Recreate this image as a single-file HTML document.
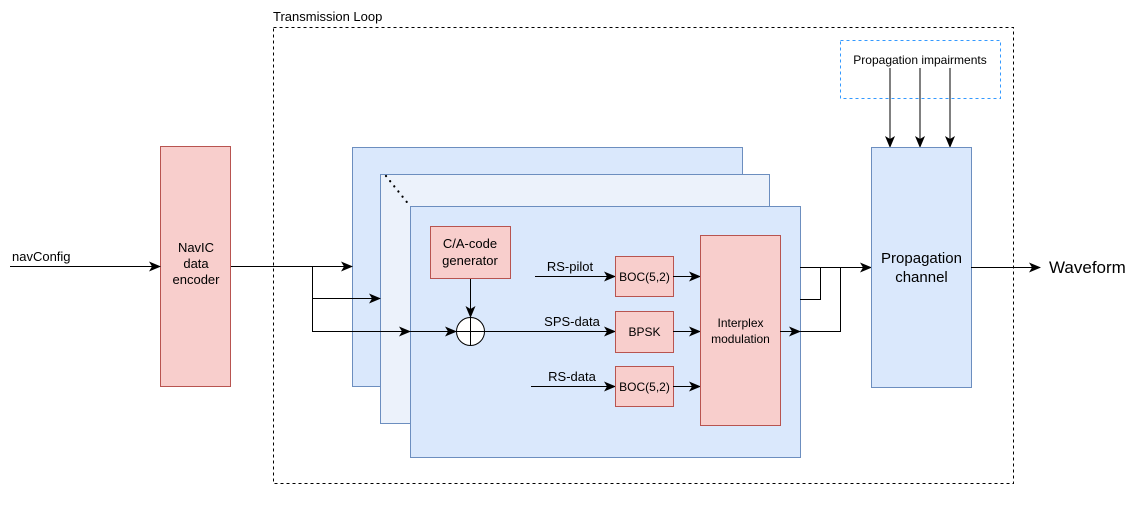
<!DOCTYPE html>
<html><head><meta charset="utf-8"><style>
html,body{margin:0;padding:0;background:#fff;}
svg{display:block;font-family:"Liberation Sans",sans-serif;}
</style></head><body>
<svg width="1140" height="515" viewBox="0 0 1140 515" xmlns="http://www.w3.org/2000/svg">
<defs>
<marker id="a" markerWidth="12" markerHeight="10" refX="11" refY="5" orient="auto" markerUnits="userSpaceOnUse">
<path d="M0,0 L12,5 L0,10 L3,5 z" fill="#000"/></marker>
</defs>
<rect x="273.5" y="27.5" width="740" height="456" fill="none" stroke="#000" stroke-dasharray="3,3"/>
<text x="273" y="21" font-size="13">Transmission Loop</text>
<rect x="840.5" y="40.5" width="160" height="58" fill="none" stroke="#3399ff" stroke-dasharray="3,3"/>
<text x="920" y="64" font-size="12" text-anchor="middle">Propagation impairments</text>
<line x1="890" y1="68" x2="890" y2="147" stroke="#000" marker-end="url(#a)"/>
<line x1="920" y1="68" x2="920" y2="147" stroke="#000" marker-end="url(#a)"/>
<line x1="950" y1="68" x2="950" y2="147" stroke="#000" marker-end="url(#a)"/>

<rect x="160.5" y="146.5" width="70" height="240" fill="#f8cecc" stroke="#b85450"/>
<text font-size="13" text-anchor="middle"><tspan x="196" y="252">NavIC</tspan><tspan x="196" y="268">data</tspan><tspan x="196" y="284">encoder</tspan></text>
<text x="12" y="261" font-size="13">navConfig</text>
<line x1="10" y1="266.5" x2="160" y2="266.5" stroke="#000" marker-end="url(#a)"/>

<rect x="352.5" y="147.5" width="390" height="239" fill="#dae8fc" stroke="#6c8ebf"/>
<rect x="380.5" y="174.5" width="389" height="249" fill="#ecf2fb" stroke="#6c8ebf"/>
<rect x="410.5" y="206.5" width="390" height="251" fill="#dae8fc" stroke="#6c8ebf"/>
<line x1="386" y1="176" x2="410" y2="206" stroke="#000" stroke-width="2.2" stroke-linecap="round" stroke-dasharray="0.1,6.5"/>

<polyline points="231,266.5 312.5,266.5 312.5,331.5 410,331.5" fill="none" stroke="#000"/>
<line x1="312" y1="266.5" x2="352" y2="266.5" stroke="#000" marker-end="url(#a)"/>
<line x1="312" y1="298.5" x2="380" y2="298.5" stroke="#000" marker-end="url(#a)"/>
<line x1="312" y1="331.5" x2="410" y2="331.5" stroke="#000" marker-end="url(#a)"/>
<line x1="410" y1="331.5" x2="456" y2="331.5" stroke="#000" marker-end="url(#a)"/>

<rect x="430.5" y="226.5" width="80" height="52" fill="#f8cecc" stroke="#b85450"/>
<text font-size="13" text-anchor="middle"><tspan x="470" y="248">C/A-code</tspan><tspan x="470" y="265">generator</tspan></text>
<line x1="470.5" y1="279" x2="470.5" y2="317" stroke="#000" marker-end="url(#a)"/>
<circle cx="470.5" cy="331.5" r="14" fill="#fff" stroke="#000"/>
<line x1="456.5" y1="331.5" x2="484.5" y2="331.5" stroke="#000"/>
<line x1="470.5" y1="317.5" x2="470.5" y2="345.5" stroke="#000"/>
<line x1="484.5" y1="331.5" x2="615" y2="331.5" stroke="#000" marker-end="url(#a)"/>

<text x="570" y="271" font-size="13" text-anchor="middle">RS-pilot</text>
<text x="572" y="326" font-size="13" text-anchor="middle">SPS-data</text>
<text x="572" y="381" font-size="13" text-anchor="middle">RS-data</text>
<line x1="535" y1="276.5" x2="615" y2="276.5" stroke="#000" marker-end="url(#a)"/>
<line x1="531" y1="386.5" x2="615" y2="386.5" stroke="#000" marker-end="url(#a)"/>

<rect x="615.5" y="256.5" width="58" height="40" fill="#f8cecc" stroke="#b85450"/>
<text x="644.5" y="281" font-size="12" text-anchor="middle">BOC(5,2)</text>
<rect x="615.5" y="311.5" width="58" height="41" fill="#f8cecc" stroke="#b85450"/>
<text x="644.5" y="336" font-size="12" text-anchor="middle">BPSK</text>
<rect x="615.5" y="366.5" width="58" height="40" fill="#f8cecc" stroke="#b85450"/>
<text x="644.5" y="391" font-size="12" text-anchor="middle">BOC(5,2)</text>
<line x1="673" y1="276.5" x2="700" y2="276.5" stroke="#000" marker-end="url(#a)"/>
<line x1="673" y1="331.5" x2="700" y2="331.5" stroke="#000" marker-end="url(#a)"/>
<line x1="673" y1="386.5" x2="700" y2="386.5" stroke="#000" marker-end="url(#a)"/>

<rect x="700.5" y="235.5" width="80" height="190" fill="#f8cecc" stroke="#b85450"/>
<text font-size="12" text-anchor="middle"><tspan x="740.5" y="327">Interplex</tspan><tspan x="740.5" y="343">modulation</tspan></text>
<line x1="780" y1="331.5" x2="800" y2="331.5" stroke="#000" marker-end="url(#a)"/>

<line x1="800" y1="267.5" x2="871" y2="267.5" stroke="#000" marker-end="url(#a)"/>
<polyline points="800,299.5 820.5,299.5 820.5,267.5" fill="none" stroke="#000"/>
<polyline points="800,331.5 840.5,331.5 840.5,267.5" fill="none" stroke="#000"/>

<rect x="871.5" y="147.5" width="100" height="240" fill="#dae8fc" stroke="#6c8ebf"/>
<text font-size="15" text-anchor="middle"><tspan x="921.5" y="263">Propagation</tspan><tspan x="921.5" y="282">channel</tspan></text>
<line x1="971" y1="267.5" x2="1040" y2="267.5" stroke="#000" marker-end="url(#a)"/>
<text x="1049" y="273" font-size="17">Waveform</text>
</svg>
</body></html>
